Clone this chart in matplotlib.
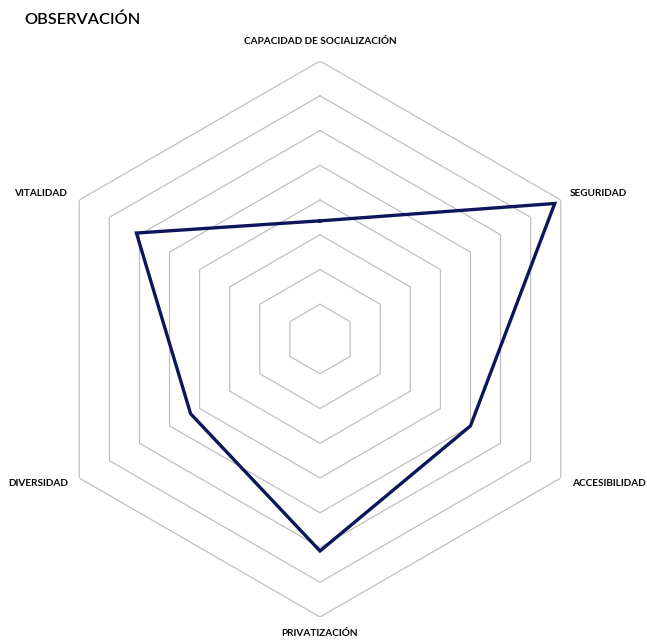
import numpy as np
import matplotlib
matplotlib.use("Agg")
import matplotlib.pyplot as plt

# Observation scores per dimension (clockwise from the top)
categories = ["CAPACIDAD DE SOCIALIZACIÓN", "SEGURIDAD", "ACCESIBILIDAD",
              "PRIVATIZACIÓN", "DIVERSIDAD", "VITALIDAD"]
values = [3.4, 7.8, 5.0, 6.1, 4.3, 6.1]
ring_levels = [1, 2, 3, 4, 5, 6, 7, 8]
r_max = 8

W, H = 647, 640
fig = plt.figure(figsize=(W / 100, H / 100), dpi=100)
fig.patch.set_facecolor("white")

cx, cy, rad = 320, 339, 278
ax = fig.add_axes([(cx - rad) / W, (H - cy - rad) / H, 2 * rad / W, 2 * rad / H],
                  projection="polar")
ax.set_theta_zero_location("N")
ax.set_theta_direction(-1)
ax.set_ylim(0, r_max)
ax.grid(False)
ax.set_xticks([])
ax.set_yticks([])
ax.spines["polar"].set_visible(False)
ax.patch.set_alpha(0)

n = len(categories)
theta = np.arange(n) * 2 * np.pi / n
theta_closed = np.append(theta, theta[0])

# hexagonal grid rings
for lvl in ring_levels:
    ax.plot(theta_closed, [lvl] * (n + 1), color="#bdbdbd", lw=0.85, zorder=1)

# data polygon
vals_closed = values + values[:1]
ax.plot(theta_closed, vals_closed, color="#0b175a", lw=2.4, zorder=3,
        solid_joinstyle="miter")

font = ["Lato", "DejaVu Sans"]
lab_kw = dict(fontsize=7.2, fontweight="bold", family=font, color="#0a0a0a")

# category labels
label_pos = [(320, 41, "center"), (570, 193, "left"), (572, 483, "left"),
             (320, 633, "center"), (8, 483, "left"), (14, 193, "left")]
for name, (px, py, ha) in zip(categories, label_pos):
    fig.text(px / W, 1 - py / H, name, ha=ha, va="center", **lab_kw)

fig.text(24 / W, 1 - 20 / H, "OBSERVACIÓN", ha="left", va="center",
         fontsize=11.8, fontweight="semibold", family=font, color="#000000")

fig.savefig("out.png", dpi=100, facecolor="white")
